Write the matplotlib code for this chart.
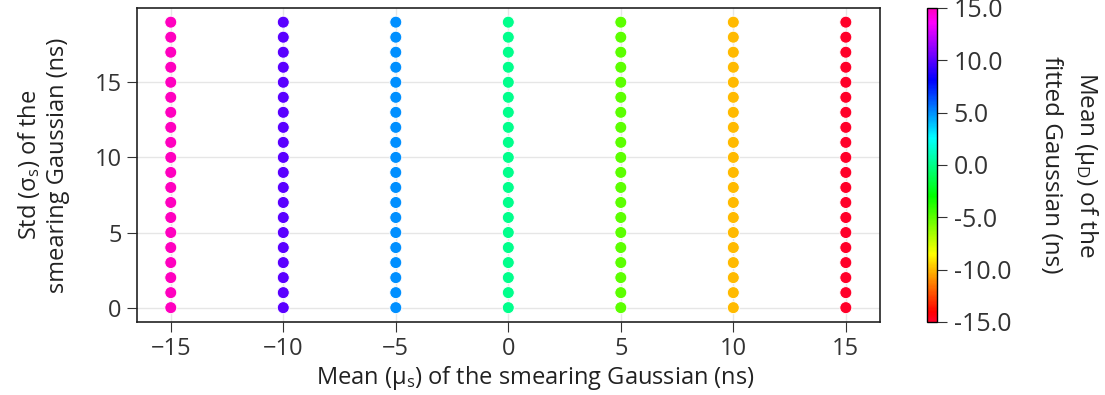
import numpy as np
import matplotlib
matplotlib.use("Agg")
import matplotlib.pyplot as plt
from matplotlib.ticker import FormatStrFormatter

plt.rcParams["font.family"] = ["Open Sans", "DejaVu Sans"]
plt.rcParams["mathtext.fontset"] = "custom"
plt.rcParams["mathtext.rm"] = "Open Sans"
plt.rcParams["mathtext.default"] = "regular"

# Grid of smearing parameters and the resulting fitted means
smear_means = [-15, -10, -5, 0, 5, 10, 15]
smear_stds = list(range(0, 20))
fitted_means = [15, 10, 5, 0, -5, -10, -15]

xs, ys, cs = [], [], []
for mu, fit in zip(smear_means, fitted_means):
    for sd in smear_stds:
        xs.append(mu)
        ys.append(sd)
        cs.append(fit)

tick_color = "#333333"
label_color = "#222222"

fig = plt.figure(figsize=(11.05, 3.95), dpi=100)
ax = fig.add_axes([0.124, 0.185, 0.672, 0.795])
cax = fig.add_axes([0.839, 0.185, 0.009, 0.795])

ax.grid(True, color="#e6e6e6", linewidth=1.0, zorder=0)
ax.set_axisbelow(True)
sc = ax.scatter(xs, ys, c=cs, cmap="gist_rainbow", vmin=-15, vmax=15,
                s=75, edgecolors="white", linewidths=0.7, zorder=3)

ax.set_xticks([-15, -10, -5, 0, 5, 10, 15])
ax.set_yticks([0, 5, 10, 15])
ax.tick_params(labelsize=17, colors=tick_color, length=7, pad=4)
for sp in ax.spines.values():
    sp.set_color("#222222")
    sp.set_linewidth(1.2)

ax.set_xlabel(r"Mean (μ$_s$) of the smearing Gaussian (ns)",
              fontsize=17, color=label_color)
ax.xaxis.set_label_coords(0.537, -0.135)
ax.set_ylabel("Std (σ$_s$) of the\nsmearing Gaussian (ns)",
              fontsize=17, color=label_color, labelpad=18)

cb = fig.colorbar(sc, cax=cax, ticks=[-15, -10, -5, 0, 5, 10, 15],
                  format=FormatStrFormatter("%.1f"))
cb.ax.tick_params(labelsize=18, colors=tick_color, length=7, pad=5)
cb.outline.set_linewidth(1.0)
cb.set_label("Mean (μ$_D$) of the\nfitted Gaussian (ns)", rotation=270,
             fontsize=17.5, color=label_color, labelpad=64, linespacing=1.5)

fig.savefig("out.png", dpi=100)
